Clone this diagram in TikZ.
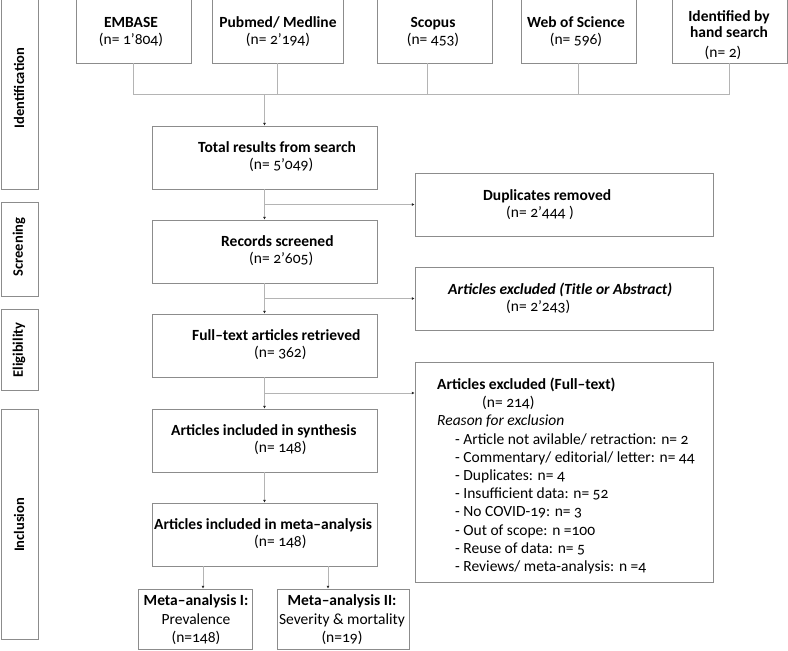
\documentclass[tikz,border=0pt]{standalone}
\usepackage{fontspec}
\setmainfont{Carlito}[Numbers=OldStyle]
\usetikzlibrary{arrows.meta}
\definecolor{boxgray}{HTML}{8C8C8C}
\definecolor{linegray}{HTML}{B4B4B4}
\begin{document}
\begin{tikzpicture}[x=1pt,y=-1pt,
  box/.style={draw=boxgray, line width=0.9pt, inner sep=0pt, fill=white},
  txt/.style={align=center, font=\fontsize{15.5}{17}\selectfont, inner sep=0pt},
  ltxt/.style={align=left, anchor=west, font=\fontsize{15.5}{17}\selectfont, inner sep=0pt},
  phase/.style={rotate=90, font=\fontsize{14.5}{16}\selectfont\bfseries, inner sep=0pt},
  conn/.style={draw=linegray, line width=0.9pt},
  arr/.style={conn, -{Latex[length=2.6pt,width=2.8pt,color=black!85]}}]
\useasboundingbox (0,0) rectangle (788,651);
\clip (0,0) rectangle (788,651);
\fill[white] (0,0) rectangle (788,651);

% phase boxes
\node[box, minimum width=37pt, minimum height=205pt] (idbox) at (19.5,86.5) {};
\node[phase] (idlab) at (19,88) {Identification};
\node[box, minimum width=37pt, minimum height=94pt] (scbox) at (19.5,249) {};
\node[phase] (sclab) at (19,247) {Screening};
\node[box, minimum width=37pt, minimum height=81pt] (elbox) at (19.5,349.5) {};
\node[phase] (ellab) at (19,350) {Eligibility};
\node[box, minimum width=37pt, minimum height=230pt] (inbox) at (19.5,524) {};
\node[phase] (inlab) at (19,525) {Inclusion};

% sources
\node[box, minimum width=115pt, minimum height=73pt] (embase) at (133.5,26.5) {};
\node[txt] (embaset) at (131,31.5) {\textbf{EMBASE}\\(n= 1’804)};
\node[box, minimum width=131pt, minimum height=73pt] (pubmed) at (277.5,26.5) {};
\node[txt] (pubmedt) at (278,31.5) {\textbf{Pubmed/ Medline}\\(n= 2’194)};
\node[box, minimum width=115pt, minimum height=73pt] (scopus) at (434.5,26.5) {};
\node[txt] (scopust) at (433,32) {\textbf{Scopus}\\(n= 453)};
\node[box, minimum width=115pt, minimum height=73pt] (wos) at (578.5,26.5) {};
\node[txt] (wost) at (576,31.5) {\textbf{Web of Science}\\(n= 596)};
\node[box, minimum width=115pt, minimum height=73pt] (hand) at (729.5,26.5) {};
\node[txt, font=\fontsize{15.5}{16}\selectfont] (handt) at (729,24) {\textbf{Identified by}\\\textbf{hand search}};
\node[txt] (handn) at (723,53) {(n= 2)};

% main column
\node[box, minimum width=225pt, minimum height=63pt] (total) at (264.5,157.5) {};
\node[ltxt] (totalt) at (198,157) {\textbf{Total results from search}\\\hspace*{51pt}(n= 5’049)};
\node[box, minimum width=225pt, minimum height=63pt] (records) at (264.5,251.5) {};
\node[ltxt] (recordst) at (221,251) {\textbf{Records screened}\\\hspace*{28pt}(n= 2’605)};
\node[box, minimum width=225pt, minimum height=63pt] (full) at (264.5,345.5) {};
\node[ltxt] (fullt) at (192,345) {\textbf{Full–text articles retrieved}\\\hspace*{62pt}(n= 362)};
\node[box, minimum width=225pt, minimum height=63pt] (synth) at (264.5,440.5) {};
\node[ltxt] (syntht) at (171,440) {\textbf{Articles included in synthesis}\\\hspace*{83pt}(n= 148)};
\node[box, minimum width=225pt, minimum height=63pt] (meta) at (264.5,534.5) {};
\node[ltxt] (metat) at (154,534) {\textbf{Articles included in meta–analysis}\\\hspace*{100pt}(n= 148)};

\node[box, minimum width=114pt, minimum height=60pt] (ma1) at (195,619) {};
\node[txt, font=\fontsize{15.5}{18.5}\selectfont] (ma1t) at (196,620) {\textbf{Meta–analysis I:}\\Prevalence\\(n=148)};
\node[box, minimum width=132pt, minimum height=60pt] (ma2) at (343,619) {};
\node[txt, font=\fontsize{15.5}{18.5}\selectfont] (ma2t) at (342,620) {\textbf{Meta–analysis II:}\\Severity \& mortality\\(n=19)};

% right column
\node[box, minimum width=298pt, minimum height=63pt] (dup) at (564,204.5) {};
\node[ltxt] (dupt) at (483,204.5) {\textbf{Duplicates removed}\\\hspace*{23pt}(n= 2’444 )};
\node[box, minimum width=298pt, minimum height=63pt] (tabs) at (564,298.5) {};
\node[ltxt] (tabst) at (448,298.5) {\textbf{\textit{Articles excluded (Title or Abstract)}}\\\hspace*{58pt}(n= 2’243)};
\node[box, minimum width=298pt, minimum height=220pt] (ftex) at (564,472) {};
\node[ltxt, font=\fontsize{15.5}{18.2}\selectfont] (ftext) at (437,476) {\textbf{Articles excluded (Full–text)}\\
\hspace*{45pt}(n= 214)\\
\textit{Reason for exclusion}\\
\hspace*{18pt}- Article not avilable/ retraction: n= 2\\
\hspace*{18pt}- Commentary/ editorial/ letter: n= 44\\
\hspace*{18pt}- Duplicates: n= 4\\
\hspace*{18pt}- Insufficient data: n= 52\\
\hspace*{18pt}- No COVID-19: n= 3\\
\hspace*{18pt}- Out of scope: n =100\\
\hspace*{18pt}- Reuse of data: n= 5\\
\hspace*{18pt}- Reviews/ meta-analysis: n =4};

% connectors
\coordinate (hub) at (264.5,94);
\draw[conn] (embase.south) -- (embase.south |- hub) -- (hand.south |- hub) -- (hand.south);
\draw[conn] (pubmed.south) -- (pubmed.south |- hub);
\draw[conn] ([xshift=-7pt]scopus.south) -- ([xshift=-7pt]scopus.south |- hub);
\draw[conn] (wos.south) -- (wos.south |- hub);
\draw[arr] (hub) -- (total.north);

\draw[arr] (total.south) -- (records.north);
\draw[arr] (total.south |- dup.west) -- (dup.west);
\draw[arr] (records.south) -- (full.north);
\draw[arr] (records.south |- tabs.west) -- (tabs.west);
\coordinate (b3) at (264.5,393);
\draw[arr] (full.south) -- (synth.north);
\draw[arr] (b3) -- (b3 -| ftex.west);
\draw[arr] (synth.south) -- (meta.north);
\draw[arr] ([xshift=-61.5pt]meta.south) -- ([xshift=8pt]ma1.north);
\draw[arr] ([xshift=63.5pt]meta.south) -- ([xshift=-15pt]ma2.north);
\end{tikzpicture}
\end{document}
